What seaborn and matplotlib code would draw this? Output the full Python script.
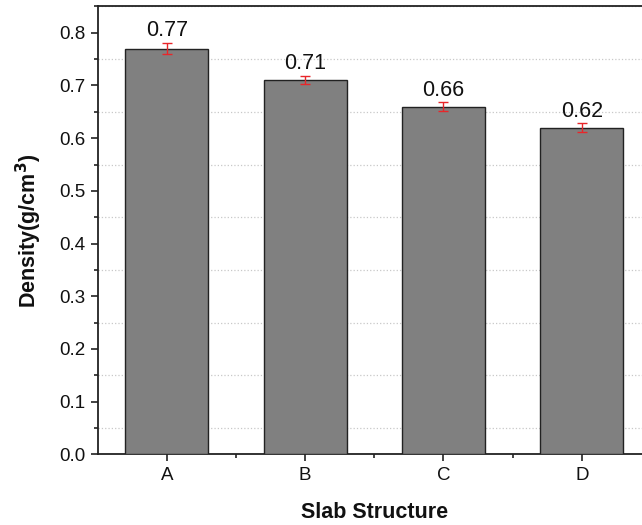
import seaborn as sns
import numpy as np
import pandas as pd
import matplotlib.pyplot as plt
from matplotlib.ticker import MultipleLocator, FixedLocator

structures = ['A', 'B', 'C', 'D']
density = [0.77, 0.71, 0.66, 0.62]
density_err = [0.011, 0.008, 0.008, 0.008]

df = pd.DataFrame({'Structure': structures, 'Density': density})

sns.set_style('ticks')
plt.rcParams['font.family'] = ['Liberation Sans', 'DejaVu Sans']
plt.rcParams['text.color'] = '#111111'
plt.rcParams['axes.labelcolor'] = '#111111'
plt.rcParams['xtick.color'] = '#222222'
plt.rcParams['ytick.color'] = '#222222'

fig = plt.figure(figsize=(6.42, 5.25), dpi=100)
ax = fig.add_axes([0.152, 0.1347, 0.862, 0.853])

sns.barplot(data=df, x='Structure', y='Density', color='#808080', saturation=1,
            width=0.6, edgecolor='#222222', linewidth=1.0, ax=ax, zorder=3)
ax.errorbar(x=np.arange(len(structures)), y=density, yerr=density_err, fmt='none',
            ecolor='#e8262a', elinewidth=1.0, capsize=3.5, capthick=1.0, zorder=4)

for i, (v, e) in enumerate(zip(density, density_err)):
    ax.text(i, v + e + 0.003, f'{v:.2f}', ha='center', va='bottom', fontsize=15.5,
            color='#111111')

ax.set_xlim(-0.5, 3.5)
ax.set_ylim(0, 0.85)
ax.yaxis.set_major_locator(MultipleLocator(0.1))
ax.yaxis.set_minor_locator(MultipleLocator(0.05))
ax.xaxis.set_minor_locator(FixedLocator([0.5, 1.5, 2.5]))
ax.grid(which='minor', axis='y', color='#c8c8c8', linestyle=':', linewidth=0.9, zorder=0)
ax.grid(which='major', visible=False)

ax.tick_params(axis='both', which='major', direction='out', length=5, width=1.2,
               labelsize=13.5, pad=4, labelcolor='#111111')
ax.tick_params(axis='both', which='minor', direction='out', length=3, width=1.2)
for s in ['left', 'bottom', 'top']:
    ax.spines[s].set_linewidth(1.3)
    ax.spines[s].set_color('#222222')
ax.spines['right'].set_visible(False)

ax.set_xlabel('Slab Structure', fontsize=15.5, fontweight='bold', labelpad=13)
ax.set_ylabel('Density(g/cm$^{\\mathbf{3}}$)', fontsize=15.5, fontweight='bold', labelpad=11)

fig.savefig('out.png', dpi=100)
